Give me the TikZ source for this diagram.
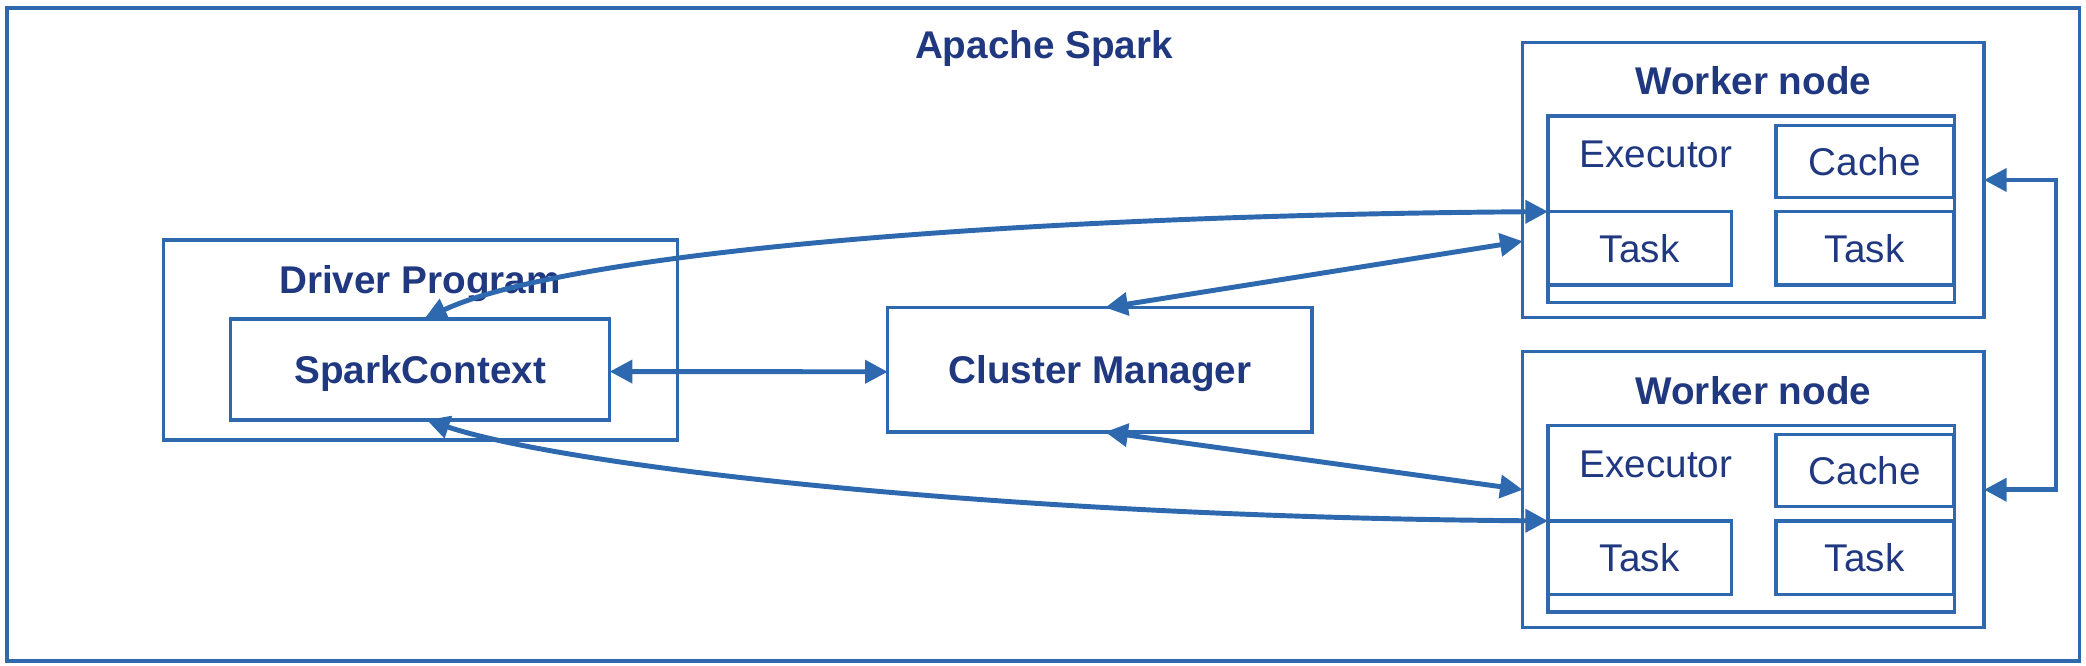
\documentclass[tikz,border=0pt]{standalone}
\usepackage{fontspec}
\setmainfont{Liberation Sans}
\usetikzlibrary{arrows.meta,calc}
\definecolor{lineblue}{RGB}{46,105,176}
\definecolor{textnavy}{RGB}{32,56,128}
\begin{document}
\begin{tikzpicture}[x=1pt,y=-1pt,
  box/.style={draw=lineblue,line width=2.5pt,rectangle,inner sep=0pt,outer sep=0pt,
    text=textnavy,font=\fontsize{29}{32}\selectfont,text height=21pt,text depth=0pt},
  boldbox/.style={box,font=\fontsize{29}{32}\selectfont\bfseries},
  lbl/.style={text=textnavy,font=\fontsize{29}{32}\selectfont,inner sep=0pt,anchor=base},
  boldlbl/.style={lbl,font=\fontsize{29}{32}\selectfont\bfseries},
  arr/.style={draw=lineblue,line width=3.7pt,{Triangle[length=17pt,width=17pt]}-{Triangle[length=17pt,width=17pt]}}
]
\useasboundingbox (0,0) rectangle (1564.5,499.5);
% outer frame
\node[box,minimum width=1554.25pt,minimum height=489.7pt] (spark) at (782.4,250.85) {};
\node[boldlbl] (sparktitle) at (783,43.7) {Apache Spark};
% driver
\node[box,minimum width=385.5pt,minimum height=150pt] (driver) at (315.25,255) {};
\node[boldlbl] (drivertitle) at (315,220) {Driver Program};
\node[boldbox,minimum width=284.3pt,minimum height=75.7pt] (sc) at (315.15,277.15) {SparkContext};
% cluster manager
\node[boldbox,minimum width=318.2pt,minimum height=93.3pt] (cm) at (824.9,277.35) {Cluster Manager};
% worker 1
\node[box,minimum width=346pt,minimum height=206pt] (w1) at (1315,135) {};
\node[boldlbl] (w1title) at (1315,71) {Worker node};
\node[box,minimum width=305pt,minimum height=140pt] (e1) at (1313.5,157) {};
\node[lbl] (e1title) at (1242,126) {Executor};
\node[box,minimum width=133pt,minimum height=54pt] (c1) at (1398.5,121) {Cache};
\node[box,minimum width=137.6pt,minimum height=55pt] (t1a) at (1229.8,186.2) {Task};
\node[box,minimum width=133pt,minimum height=55pt] (t1b) at (1398.5,186.2) {Task};
% worker 2
\node[box,minimum width=346pt,minimum height=207pt] (w2) at (1315,367.3) {};
\node[boldlbl] (w2title) at (1315,303.5) {Worker node};
\node[box,minimum width=305pt,minimum height=140pt] (e2) at (1313.5,389) {};
\node[lbl] (e2title) at (1242,358.5) {Executor};
\node[box,minimum width=133pt,minimum height=54pt] (c2) at (1398.5,353) {Cache};
\node[box,minimum width=137.6pt,minimum height=55pt] (t2a) at (1229.8,418.2) {Task};
\node[box,minimum width=133pt,minimum height=55pt] (t2b) at (1398.5,418.2) {Task};
% connectors
\draw[arr] ($(sc.east)+(0,1.5)$) -- ($(cm.west)+(0,1.5)$);
\draw[arr] ($(sc.north)+(3,0)$) .. controls +(105,-49) and +(-411,3) .. (t1a.north west);
\draw[arr] ($(sc.south)+(5,0)$) .. controls +(105,35) and +(-411,-3) .. (t2a.north west);
\draw[arr] ($(cm.north)+(4,0)$) -- ($(w1.north west)!0.723!(w1.south west)$);
\draw[arr] ($(cm.south)+(4,0)$) -- (w2.west);
\draw[arr] (w1.east) -- ++(54,0) |- (w2.east);
\end{tikzpicture}
\end{document}
